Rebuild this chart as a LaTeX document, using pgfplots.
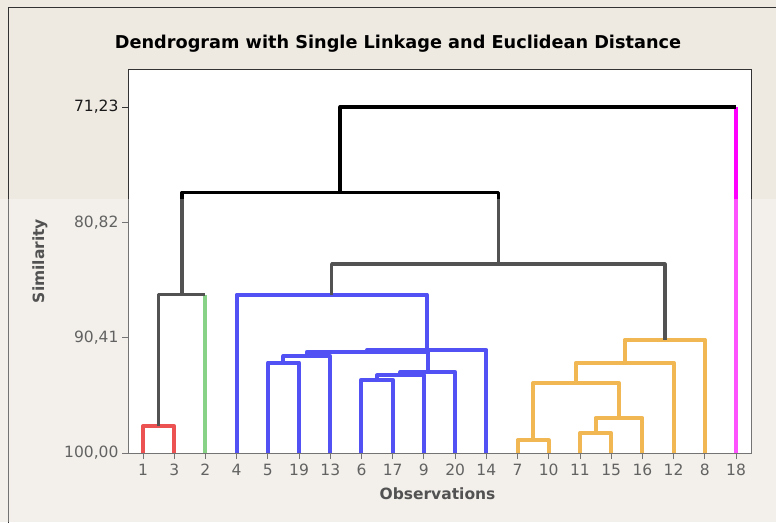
\documentclass[border=0pt]{standalone}
\usepackage{fontspec}
\setmainfont{DejaVu Sans}
\usepackage{pgfplots}
\pgfplotsset{compat=1.18}
\definecolor{bgbeige}{RGB}{238,234,226}
\definecolor{cred}{RGB}{228,0,0}
\definecolor{cgreen}{RGB}{80,190,80}
\definecolor{cblue}{RGB}{0,0,240}
\definecolor{corange}{RGB}{235,150,0}
\definecolor{cmag}{RGB}{255,0,255}
\definecolor{framec}{RGB}{50,50,50}
\begin{document}
\begin{tikzpicture}[x=1pt,y=1pt]
\useasboundingbox (0pt,0pt) rectangle (776pt,-522pt);
\fill[bgbeige] (0pt,0pt) rectangle (776pt,-522pt);
\draw[framec, line width=1pt] (8pt,-530pt) -- (8pt,-7pt) -- (790pt,-7pt);
\begin{axis}[
  at={(128pt,-261pt)}, anchor=west,
  scale only axis, width=623pt, height=384pt,
  xmin=0.52, xmax=20.48, ymin=68.07, ymax=100, y dir=reverse,
  axis background/.style={fill=white},
  axis line style={black!80, line width=0.9pt},
  xtick={1,...,20},
  xticklabels={1,3,2,4,5,19,13,6,17,9,20,14,7,10,11,15,16,12,8,18},
  ytick={71.23,80.82,90.41,100},
  yticklabels={71{,}23,80{,}82,90{,}41,100{,}00},
  tick align=outside, major tick length=6pt,
  tick style={black!80, line width=0.9pt},
  xtick pos=left, ytick pos=left,
  xticklabel pos=left, yticklabel pos=left,
  ticklabel style={font=\fontsize{15.5}{18}\selectfont, text=black!90},
  xticklabel style={yshift=-1.5pt},
  clip=false,
  every axis plot/.append style={line join=round, line cap=butt},
]
% red cluster
\addplot[cred, line width=4pt] coordinates {(1,100) (1,97.76) (2,97.76) (2,100)};
% green singleton
\addplot[cgreen, line width=4pt] coordinates {(3,100) (3,86.83)};
% blue cluster
\addplot[cblue, line width=4pt] coordinates {(5,100) (5,92.49) (6,92.49) (6,100)};
\addplot[cblue, line width=4pt] coordinates {(5.5,92.49) (5.5,91.94) (7,91.94) (7,100)};
\addplot[cblue, line width=4pt] coordinates {(8,100) (8,93.90) (9,93.90) (9,100)};
\addplot[cblue, line width=4pt] coordinates {(8.5,93.90) (8.5,93.54) (10,93.54) (10,100)};
\addplot[cblue, line width=4pt] coordinates {(9.25,93.54) (9.25,93.27) (11,93.27) (11,100)};
\addplot[cblue, line width=4pt] coordinates {(6.25,91.94) (6.25,91.60) (10.125,91.60) (10.125,93.27)};
\addplot[cblue, line width=4pt] coordinates {(8.1875,91.60) (8.1875,91.42) (12,91.42) (12,100)};
\addplot[cblue, line width=4pt] coordinates {(4,100) (4,86.83) (10.09375,86.83) (10.09375,91.42)};
% orange cluster
\addplot[corange, line width=4pt] coordinates {(13,100) (13,98.94) (14,98.94) (14,100)};
\addplot[corange, line width=4pt] coordinates {(15,100) (15,98.34) (16,98.34) (16,100)};
\addplot[corange, line width=4pt] coordinates {(15.5,98.34) (15.5,97.09) (17,97.09) (17,100)};
\addplot[corange, line width=4pt] coordinates {(13.5,98.94) (13.5,94.18) (16.25,94.18) (16.25,97.09)};
\addplot[corange, line width=4pt] coordinates {(14.875,94.18) (14.875,92.49) (18,92.49) (18,100)};
\addplot[corange, line width=4pt] coordinates {(16.4375,92.49) (16.4375,90.57) (19,90.57) (19,100)};
% magenta singleton
\addplot[cmag, line width=4pt] coordinates {(20,100) (20,71.23)};
% black links
\addplot[black, line width=3.5pt] coordinates {(1.5,97.76) (1.5,86.83) (3,86.83)};
\addplot[black, line width=3.5pt] coordinates {(7.046875,86.83) (7.046875,84.30) (17.71875,84.30) (17.71875,90.57)};
\addplot[black, line width=3.5pt] coordinates {(2.25,86.83) (2.25,78.35) (12.3828,78.35) (12.3828,84.30)};
\addplot[black, line width=3.5pt] coordinates {(7.3164,78.35) (7.3164,71.23) (20,71.23)};
\end{axis}
\node[font=\bfseries\fontsize{15.5}{18}\selectfont, rotate=90] at (40pt,-261pt) {Similarity};
\node[font=\bfseries\fontsize{15.5}{18}\selectfont] at (437.5pt,-494pt) {Observations};
\fill[white, opacity=0.32] (0pt,-199pt) rectangle (776pt,-522pt);
\node[font=\bfseries\fontsize{17.7}{20}\selectfont] at (398pt,-44pt) {Dendrogram with Single Linkage and Euclidean Distance};
\end{tikzpicture}
\end{document}
